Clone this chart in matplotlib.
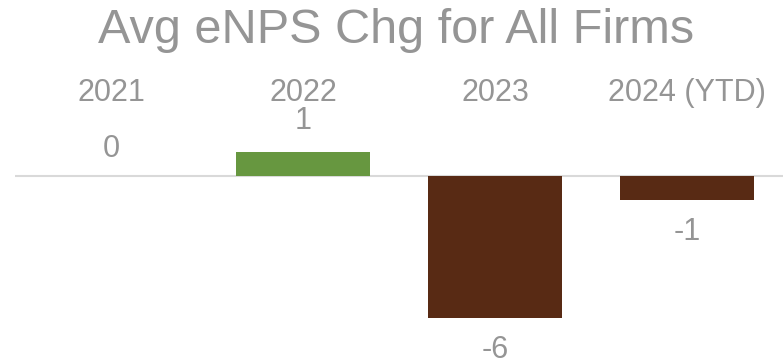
import matplotlib.pyplot as plt
from matplotlib.transforms import blended_transform_factory

# Average eNPS change per year
years = ["2021", "2022", "2023", "2024 (YTD)"]
changes = [0, 1, -6, -1]
bar_colors = ["#679740", "#679740", "#582A14", "#582A14"]

plt.rcParams["font.family"] = ["Liberation Sans", "DejaVu Sans"]
text_gray = "#959595"

fig = plt.figure(figsize=(7.84, 3.64), dpi=100)
# axes spans the plot area below the title (figure fractions)
ax = fig.add_axes([15 / 784, 24 / 364, 768 / 784, 200 / 364])

x = list(range(len(years)))
bars = ax.bar(x, changes, width=0.70, color=bar_colors, zorder=2)

ax.set_xlim(-0.5, len(years) - 0.5)
ax.set_ylim(-6.92, 1.52)
ax.axhline(0, color="#d9d9d9", linewidth=1.5, zorder=1)

ax.set_xticks([])
ax.set_yticks([])
for side in ax.spines.values():
    side.set_visible(False)

# year labels sit in a row above the chart
year_row = blended_transform_factory(ax.transData, fig.transFigure)
for xi, yr in zip(x, years):
    ax.text(xi, 0.7225, yr, transform=year_row, ha="center", va="baseline",
            fontsize=22, color=text_gray)

# value labels: above for non-negative, below for negative
for xi, val in zip(x, changes):
    if val > 0:
        dy = 17
    elif val == 0:
        dy = 13.5
    else:
        dy = -29
    ax.annotate(f"{val}", (xi, val), xytext=(0, dy), textcoords="offset points",
                ha="center", va="baseline", fontsize=22, color=text_gray)

fig.text(0.505, 0.882, "Avg eNPS Chg for All Firms", ha="center", va="baseline",
         fontsize=35, color=text_gray)

fig.savefig("out.png", dpi=100)
